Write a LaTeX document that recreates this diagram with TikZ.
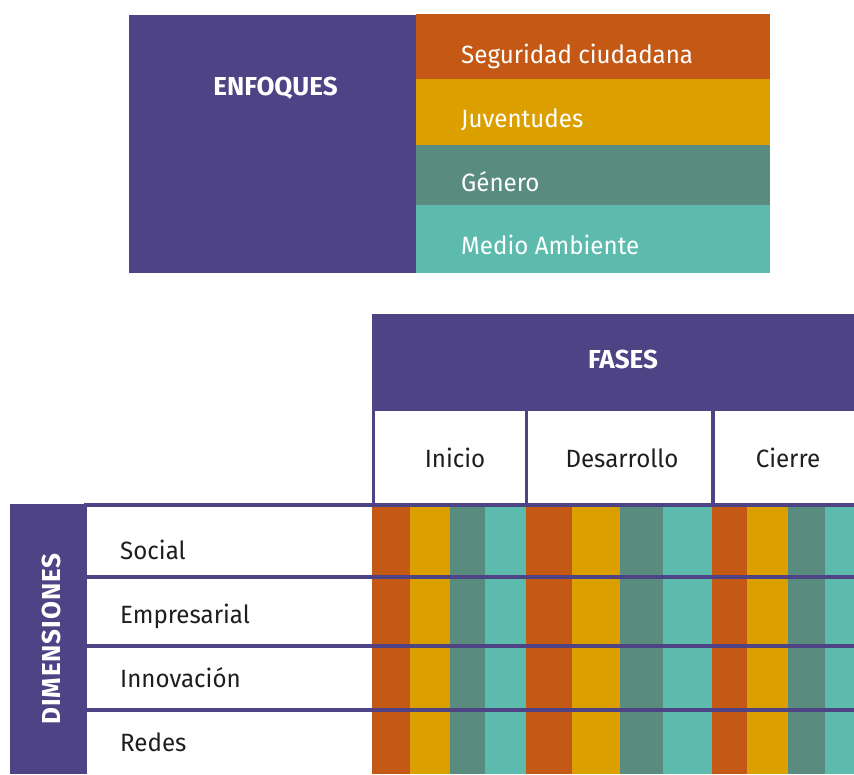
\documentclass[tikz,border=0pt]{standalone}
\usepackage{fontspec}
\setmainfont{Fira Sans}
\newfontfamily\estrecha[FakeStretch=0.965]{Fira Sans}
\newfontfamily\espaciada[LetterSpace=3.5]{Fira Sans}
\begin{document}
\definecolor{violeta}{HTML}{4E4385}
\definecolor{naranja}{HTML}{C45815}
\definecolor{amarillo}{HTML}{DBA000}
\definecolor{verdeosc}{HTML}{5A8B7F}
\definecolor{verdecla}{HTML}{5DBBAD}
\definecolor{texto}{HTML}{1E1E1E}
\begin{tikzpicture}[x=1pt,y=-1pt,
  titulo/.style={text=white, font=\fontsize{26}{26}\selectfont\bfseries, inner sep=0pt, anchor=base},
  banda/.style={text=white, font=\estrecha\fontsize{25}{25}\selectfont, inner sep=0pt, anchor=base west},
  etiqueta/.style={text=texto, font=\estrecha\fontsize{25}{25}\selectfont, inner sep=0pt, anchor=base west},
  fase/.style={text=texto, font=\estrecha\fontsize{25}{25}\selectfont, inner sep=0pt, anchor=base},
  rejilla/.style={draw=violeta, line width=4pt},
  divisor/.style={draw=violeta, line width=3.5pt}
]
\useasboundingbox (0,0) rectangle (854,774);

% ---- Enfoques ----
\fill[violeta] (129,15) rectangle (416,273);
\fill[naranja] (416,14) rectangle (770,79);
\fill[amarillo] (416,79) rectangle (770,145);
\fill[verdeosc] (416,145) rectangle (770,205);
\fill[verdecla] (416,205) rectangle (770,273);
\node[titulo] (enfoques) at (275.5,95) {ENFOQUES};
\node[banda] (seg) at (461,63) {Seguridad ciudadana};
\node[banda] (juv) at (461,127) {Juventudes};
\node[banda] (gen) at (461,191) {Género};
\node[banda] (med) at (461,254) {Medio Ambiente};

% ---- Fases ----
\fill[violeta] (372,314) rectangle (854,411);
\node[titulo] (fases) at (623,368) {FASES};
\node[fase] (inicio) at (455,467) {Inicio};
\node[fase] (desarrollo) at (622,467) {Desarrollo};
\node[fase] (cierre) at (788,467) {Cierre};

% ---- Color columns per phase ----
\foreach \a/\b/\c in {372/410/naranja,410/450/amarillo,450/485/verdeosc,485/526/verdecla,
                      526/572/naranja,572/620/amarillo,620/663/verdeosc,663/712/verdecla,
                      712/747/naranja,747/788/amarillo,788/825/verdeosc,825/854/verdecla}
  \fill[\c] (\a,505) rectangle (\b,774);

% ---- Dimensiones ----
\fill[violeta] (10,504) rectangle (87,774);
\node[titulo, font=\espaciada\fontsize{26}{26}\selectfont\bfseries, rotate=90] (dimensiones) at (60,639) {DIMENSIONES};
\node[etiqueta] (social) at (120,559) {Social};
\node[etiqueta] (empresarial) at (120,623) {Empresarial};
\node[etiqueta] (innovacion) at (120,687) {Innovación};
\node[etiqueta] (redes) at (120,751) {Redes};

% ---- Grid lines ----
\draw[divisor] (373.5,409) -- (373.5,505);
\draw[divisor] (526.5,409) -- (526.5,505);
\draw[divisor] (713,409) -- (713,505);
\draw[rejilla] (84,505) -- (854,505);
\draw[rejilla] (87,577) -- (854,577);
\draw[rejilla] (87,646) -- (854,646);
\draw[rejilla] (87,710) -- (854,710);
\end{tikzpicture}
\end{document}
